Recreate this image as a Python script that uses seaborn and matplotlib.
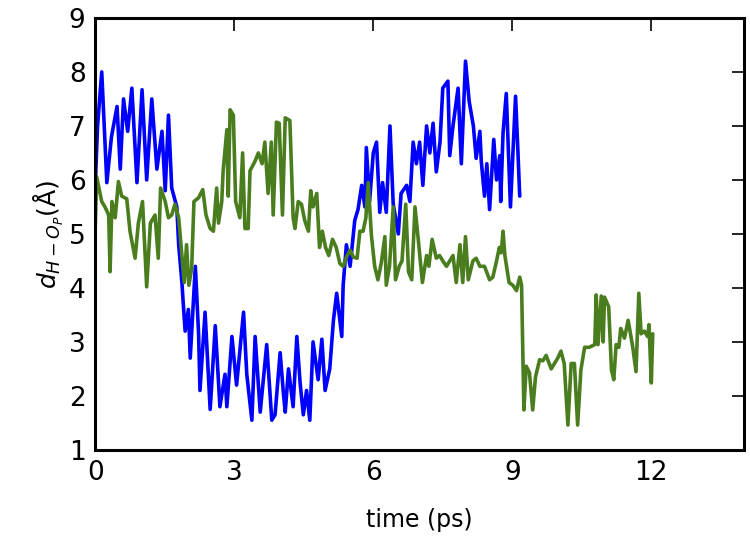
import pandas as pd
import matplotlib
matplotlib.use('Agg')
import matplotlib.pyplot as plt
import seaborn as sns

# values (time in ps, distance in angstrom)
blue_t = [0.00, 0.05, 0.14, 0.25, 0.35, 0.47, 0.54, 0.61, 0.70, 0.79, 0.90, 1.01, 1.11, 1.22,
          1.33, 1.44, 1.51, 1.58, 1.65, 1.76, 1.80, 1.87, 1.90, 1.94, 2.01, 2.05, 2.16, 2.23,
          2.26, 2.37, 2.48, 2.59, 2.69, 2.80, 2.84, 2.95, 3.05, 3.20, 3.27, 3.38, 3.45, 3.56,
          3.70, 3.81, 3.88, 3.99, 4.06, 4.10, 4.17, 4.27, 4.35, 4.42, 4.49, 4.56, 4.63, 4.70,
          4.81, 4.89, 4.96, 5.06, 5.14, 5.21, 5.32, 5.35, 5.42, 5.50, 5.60, 5.67, 5.75, 5.82,
          5.85, 5.92, 6.00, 6.07, 6.14, 6.20, 6.28, 6.36, 6.43, 6.54, 6.60, 6.72, 6.79, 6.86,
          6.93, 7.00, 7.07, 7.15, 7.22, 7.29, 7.36, 7.44, 7.50, 7.61, 7.65, 7.72, 7.83, 7.90,
          7.99, 8.07, 8.16, 8.22, 8.30, 8.33, 8.40, 8.45, 8.51, 8.60, 8.66, 8.73, 8.75, 8.80,
          8.87, 8.96, 9.07, 9.12, 9.16]
blue_d = [5.9, 7.0, 8.0, 5.95, 6.8, 7.36, 6.2, 7.5, 6.9, 7.7, 5.95, 7.67, 6.0, 7.5,
          6.2, 6.9, 5.8, 7.2, 5.85, 5.5, 4.8, 4.1, 3.7, 3.2, 3.6, 2.7, 4.4, 3.15,
          2.1, 3.55, 1.75, 3.3, 1.8, 2.4, 1.8, 3.1, 2.2, 3.55, 2.4, 1.55, 3.1, 1.7,
          2.95, 1.55, 1.65, 2.8, 2.05, 1.7, 2.5, 1.8, 3.1, 2.25, 1.65, 2.1, 1.55, 3.0,
          2.3, 3.05, 2.1, 2.5, 3.4, 3.9, 3.1, 4.05, 4.8, 4.4, 5.25, 5.45, 5.9, 5.5,
          6.6, 5.6, 6.5, 6.7, 5.4, 5.95, 5.4, 7.0, 5.55, 5.0, 5.75, 5.9, 5.6, 6.7,
          6.3, 6.7, 5.9, 7.0, 6.5, 7.05, 6.15, 6.7, 7.7, 7.83, 6.45, 7.0, 7.7, 6.3,
          8.2, 7.45, 7.0, 6.4, 6.9, 6.35, 5.7, 6.3, 5.45, 6.75, 6.0, 6.45, 5.6, 6.87,
          7.6, 5.5, 7.55, 6.55, 5.7]

green_t = [0.00, 0.03, 0.14, 0.21, 0.29, 0.32, 0.36, 0.43, 0.50, 0.57, 0.68, 0.75, 0.86, 0.93,
           1.02, 1.11, 1.19, 1.29, 1.36, 1.41, 1.51, 1.58, 1.65, 1.72, 1.80, 1.87, 1.92, 1.97,
           2.02, 2.08, 2.13, 2.23, 2.32, 2.39, 2.48, 2.55, 2.62, 2.66, 2.73, 2.76, 2.84, 2.87,
           2.91, 2.98, 3.03, 3.12, 3.18, 3.23, 3.30, 3.34, 3.45, 3.52, 3.60, 3.66, 3.73, 3.80,
           3.84, 3.91, 3.97, 4.04, 4.10, 4.20, 4.27, 4.31, 4.38, 4.45, 4.52, 4.60, 4.65, 4.70,
           4.78, 4.84, 4.90, 4.97, 5.04, 5.12, 5.20, 5.28, 5.35, 5.42, 5.50, 5.57, 5.65, 5.71,
           5.78, 5.84, 5.89, 5.96, 6.03, 6.10, 6.17, 6.25, 6.28, 6.35, 6.43, 6.48, 6.56, 6.62,
           6.70, 6.76, 6.83, 6.90, 6.97, 7.06, 7.15, 7.20, 7.27, 7.36, 7.43, 7.50, 7.58, 7.65,
           7.72, 7.79, 7.87, 7.93, 7.99, 8.05, 8.15, 8.22, 8.30, 8.40, 8.51, 8.58, 8.66, 8.72,
           8.76, 8.80, 8.84, 8.93, 9.01, 9.09, 9.16, 9.20, 9.25, 9.30, 9.37, 9.44, 9.50, 9.59,
           9.66, 9.73, 9.84, 9.91, 9.98, 10.05, 10.12, 10.20, 10.27, 10.34, 10.41, 10.48, 10.56, 10.66,
           10.78, 10.81, 10.85, 10.92, 10.96, 10.99, 11.08, 11.14, 11.19, 11.24, 11.30, 11.34, 11.42, 11.50,
           11.60, 11.67, 11.73, 11.78, 11.85, 11.92, 11.95, 12.00, 12.03]
green_d = [5.13, 6.06, 5.6, 5.5, 5.35, 4.3, 5.6, 5.3, 5.97, 5.7, 5.65, 5.05, 4.55, 5.2,
           5.6, 4.02, 5.2, 5.35, 4.55, 5.85, 5.6, 5.3, 5.35, 5.55, 5.3, 4.6, 4.1, 4.8,
           4.05, 4.35, 5.6, 5.67, 5.82, 5.35, 5.1, 5.05, 5.85, 5.2, 5.6, 6.17, 6.93, 5.7,
           7.3, 7.2, 5.6, 5.3, 6.5, 5.1, 5.1, 6.17, 6.35, 6.5, 6.3, 6.7, 5.75, 6.7,
           5.35, 7.07, 7.05, 5.35, 7.15, 7.1, 5.3, 5.1, 5.6, 5.55, 5.25, 5.05, 5.8, 5.5,
           5.75, 4.75, 5.05, 4.75, 4.6, 4.9, 4.75, 4.45, 4.4, 4.57, 4.7, 4.57, 4.55, 5.05,
           5.05, 5.3, 5.95, 4.97, 4.4, 4.15, 4.45, 4.95, 4.05, 4.4, 5.5, 4.15, 4.4, 4.5,
           5.55, 4.3, 4.15, 5.5, 4.9, 4.1, 4.6, 4.4, 4.9, 4.55, 4.6, 4.5, 4.4, 4.5,
           4.6, 4.1, 4.8, 4.1, 4.95, 4.15, 4.5, 4.55, 4.4, 4.4, 4.15, 4.2, 4.5, 4.75,
           4.65, 5.05, 4.6, 4.1, 4.05, 3.95, 4.2, 4.05, 1.74, 2.55, 2.43, 1.74, 2.35, 2.67,
           2.65, 2.75, 2.5, 2.6, 2.7, 2.83, 2.6, 1.46, 2.6, 2.6, 1.46, 2.48, 2.9, 2.9,
           2.95, 3.87, 2.95, 3.85, 3.0, 3.83, 3.65, 2.48, 2.3, 2.95, 2.9, 3.25, 3.07, 3.4,
           2.9, 2.45, 3.9, 3.15, 3.2, 3.1, 3.32, 2.24, 3.15]

x_ticks = [0, 3, 6, 9, 12]
y_ticks = [1, 2, 3, 4, 5, 6, 7, 8, 9]

df_blue = pd.DataFrame({'time': blue_t, 'dist': blue_d})
df_green = pd.DataFrame({'time': green_t, 'dist': green_d})

sns.set_style('white')
plt.rcParams['font.family'] = ['DejaVu Sans']
plt.rcParams['mathtext.fontset'] = 'dejavusans'
plt.rcParams['text.color'] = 'black'
plt.rcParams['axes.labelcolor'] = 'black'

fig, ax = plt.subplots(figsize=(7.5, 5.44), dpi=100)
fig.subplots_adjust(left=0.127, right=0.992, top=0.967, bottom=0.173)

sns.lineplot(data=df_blue, x='time', y='dist', color='#0000ff', lw=2.6,
             estimator=None, sort=False, ax=ax)
sns.lineplot(data=df_green, x='time', y='dist', color='#4a7d1e', lw=2.6,
             estimator=None, sort=False, ax=ax)

ax.set_xlim(0, 14)
ax.set_ylim(1, 9)
ax.set_xticks(x_ticks)
ax.set_yticks(y_ticks)
ax.tick_params(direction='in', length=9, width=1.2, top=True, right=True,
               labelsize=19, pad=7, colors='black')
for sp in ax.spines.values():
    sp.set_visible(True)
    sp.set_linewidth(2.2)
    sp.set_color('black')

ax.set_xlabel('time (ps)', fontsize=17, labelpad=16, color='black')
ax.set_ylabel(r'$d_{H-O_P}$(Å)', fontsize=18, labelpad=2, color='black')

fig.savefig('out.png', dpi=100)
